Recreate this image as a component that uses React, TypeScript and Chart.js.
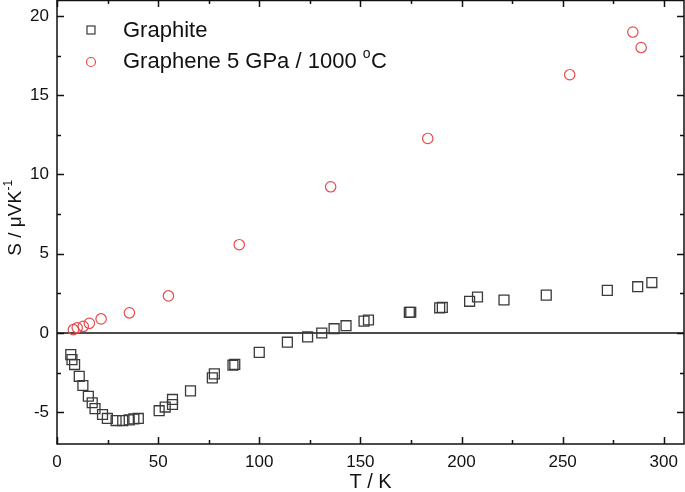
import React, { useEffect, useRef } from "react";
import { Chart, registerables } from "chart.js";

Chart.register(...registerables);

// Graphite: temperature (K) and Seebeck coefficient (µV/K)
const graphiteT = [
  6.8, 7.4, 8.7, 11.0, 12.8, 15.5, 17.4, 18.8, 22.5, 24.9, 29.2, 32.5, 35.7, 38.0, 40.2,
  50.5, 53.5, 57.1, 57.1, 66.0, 76.8, 77.8, 87.0, 87.9, 100.0, 113.9, 123.9, 130.9, 137.0,
  142.9, 151.8, 154.0, 174.2, 174.9, 189.2, 190.5, 204.0, 207.9, 221.0, 241.9, 272.1, 287.1, 294.1,
];
const graphiteS = [
  -1.36, -1.68, -1.99, -2.73, -3.31, -3.99, -4.4, -4.77, -5.14, -5.39, -5.52, -5.52, -5.48, -5.42, -5.39,
  -4.9, -4.67, -4.51, -4.19, -3.65, -2.83, -2.58, -2.03, -1.98, -1.22, -0.58, -0.25, 0.0, 0.27,
  0.46, 0.75, 0.82, 1.3, 1.31, 1.59, 1.61, 2.0, 2.27, 2.08, 2.39, 2.69, 2.92, 3.18,
];

// Graphene 5 GPa / 1000 °C
const grapheneT = [8.1, 10.0, 13.0, 16.0, 21.8, 35.8, 55.1, 90.1, 135.3, 183.3, 253.5, 284.7, 288.8];
const grapheneS = [0.21, 0.33, 0.42, 0.61, 0.89, 1.27, 2.34, 5.57, 9.22, 12.27, 16.29, 18.98, 18.0];

const xTicks = [0, 50, 100, 150, 200, 250, 300];
const yTicks = [-5, 0, 5, 10, 15, 20];
const xMinorTicks = [25, 75, 125, 175, 225, 275];
const yMinorTicks = [-2.5, 2.5, 7.5, 12.5, 17.5];

const seriesNames = ["Graphite", "Graphene 5 GPa / 1000 "];
const xTitle = "T / K";
const yTitleMain = "S / \u03bcVK";
const yTitleSup = "-1";

const FONT = "'Liberation Sans', Arial, sans-serif";
const SQ_COLOR = "#3a3a3a";
const CI_COLOR = "#e64b4b";

const framePlugin = {
  id: "originFrame",
  beforeDatasetsDraw(chart: any) {
    const { ctx, chartArea } = chart;
    const ys = chart.scales.y;
    const { left, right } = chartArea;
    ctx.save();
    ctx.strokeStyle = "#111";
    ctx.lineWidth = 1.5;
    const y0 = ys.getPixelForValue(0);
    ctx.beginPath();
    ctx.moveTo(left, y0);
    ctx.lineTo(right, y0);
    ctx.stroke();
    ctx.restore();
  },
  afterDraw(chart: any) {
    const { ctx, chartArea } = chart;
    const xs = chart.scales.x;
    const ys = chart.scales.y;
    const { left, right, top, bottom } = chartArea;
    ctx.save();
    ctx.strokeStyle = "#111";
    ctx.lineWidth = 1.5;
    ctx.strokeRect(left, top + 0.5, right - left, bottom - top - 0.5);
    const major = 7;
    const minor = 4;
    ctx.beginPath();
    const xt = (v: number, len: number) => {
      const px = Math.round(xs.getPixelForValue(v)) + 0.5;
      ctx.moveTo(px, bottom);
      ctx.lineTo(px, bottom - len);
      ctx.moveTo(px, top);
      ctx.lineTo(px, top + len);
    };
    const yt = (v: number, len: number) => {
      const py = Math.round(ys.getPixelForValue(v)) + 0.5;
      ctx.moveTo(left, py);
      ctx.lineTo(left + len, py);
      ctx.moveTo(right, py);
      ctx.lineTo(right - len, py);
    };
    xTicks.forEach((v) => xt(v, major));
    xMinorTicks.forEach((v) => xt(v, minor));
    yTicks.forEach((v) => yt(v, major));
    yMinorTicks.forEach((v) => yt(v, minor));
    ctx.stroke();

    // axis titles
    ctx.fillStyle = "#111";
    ctx.font = `20px ${FONT}`;
    ctx.textAlign = "center";
    ctx.textBaseline = "middle";
    ctx.fillText(xTitle, (left + right) / 2, 482);

    // y title with superscript
    ctx.save();
    ctx.translate(16, 218);
    ctx.rotate(-Math.PI / 2);
    ctx.font = `19px ${FONT}`;
    const wMain = ctx.measureText(yTitleMain).width;
    ctx.font = `12px ${FONT}`;
    const wSup = ctx.measureText(yTitleSup).width;
    const total = wMain + wSup;
    ctx.textAlign = "left";
    ctx.font = `19px ${FONT}`;
    ctx.fillText(yTitleMain, -total / 2, 0);
    ctx.font = `12px ${FONT}`;
    ctx.fillText(yTitleSup, -total / 2 + wMain + 0.5, -7);
    ctx.restore();

    // legend
    ctx.lineWidth = 1.2;
    ctx.strokeStyle = SQ_COLOR;
    ctx.strokeRect(87, 26, 8, 8);
    ctx.strokeStyle = CI_COLOR;
    ctx.beginPath();
    ctx.arc(91, 62, 4.5, 0, Math.PI * 2);
    ctx.stroke();
    ctx.fillStyle = "#111";
    ctx.textAlign = "left";
    ctx.textBaseline = "middle";
    ctx.font = `22px ${FONT}`;
    ctx.fillText(seriesNames[0], 123, 31);
    ctx.fillText(seriesNames[1], 123, 62);
    const w1 = ctx.measureText(seriesNames[1]).width;
    ctx.font = `14px ${FONT}`;
    ctx.fillText("o", 123 + w1, 54);
    const wo = ctx.measureText("o").width;
    ctx.font = `22px ${FONT}`;
    ctx.fillText("C", 123 + w1 + wo + 0.5, 62);
    ctx.restore();
  },
};

export default function App() {
  const canvasRef = useRef<HTMLCanvasElement | null>(null);

  useEffect(() => {
    if (!canvasRef.current) return;
    const chart = new Chart(canvasRef.current, {
      type: "scatter",
      data: {
        datasets: [
          {
            label: seriesNames[0],
            data: graphiteT.map((t, i) => ({ x: t, y: graphiteS[i] })),
            pointStyle: "rect",
            pointRadius: 7,
            pointBorderWidth: 1.3,
            borderColor: SQ_COLOR,
            backgroundColor: "rgba(0,0,0,0)",
          },
          {
            label: seriesNames[1] + "\u00b0C",
            data: grapheneT.map((t, i) => ({ x: t, y: grapheneS[i] })),
            pointStyle: "circle",
            pointRadius: 5.2,
            pointBorderWidth: 1.2,
            borderColor: CI_COLOR,
            backgroundColor: "rgba(0,0,0,0)",
          },
        ],
      },
      options: {
        responsive: false,
        animation: false,
        devicePixelRatio: 1,
        layout: { autoPadding: false, padding: { top: 0, right: 1, left: 0, bottom: 0 } },
        plugins: {
          legend: { display: false },
          tooltip: { enabled: false },
        },
        scales: {
          x: {
            type: "linear",
            min: 0,
            max: 310,
            grid: { display: false, drawTicks: false },
            border: { display: false },
            afterBuildTicks: (s: any) => {
              s.ticks = xTicks.map((v) => ({ value: v }));
            },
            afterFit: (s: any) => {
              s.height = 48;
              s.paddingLeft = 0;
              s.paddingRight = 0;
              s.paddingTop = 0;
              s.paddingBottom = 0;
            },
            ticks: {
              padding: 8,
              color: "#111",
              font: { family: FONT, size: 17 },
              maxRotation: 0,
            },
          },
          y: {
            type: "linear",
            min: -7,
            max: 21,
            grid: { display: false, drawTicks: false },
            border: { display: false },
            afterBuildTicks: (s: any) => {
              s.ticks = yTicks.map((v) => ({ value: v }));
            },
            afterFit: (s: any) => {
              s.width = 57;
              s.paddingLeft = 0;
              s.paddingRight = 0;
              s.paddingTop = 0;
              s.paddingBottom = 0;
            },
            ticks: {
              padding: 8,
              color: "#111",
              font: { family: FONT, size: 17 },
            },
          },
        },
      },
      plugins: [framePlugin],
    });
    return () => chart.destroy();
  }, []);

  return (
    <div style={{ position: "absolute", left: 0, top: 0, width: 685, height: 492, background: "#fff" }}>
      <canvas ref={canvasRef} width={685} height={492} style={{ display: "block" }} />
    </div>
  );
}
